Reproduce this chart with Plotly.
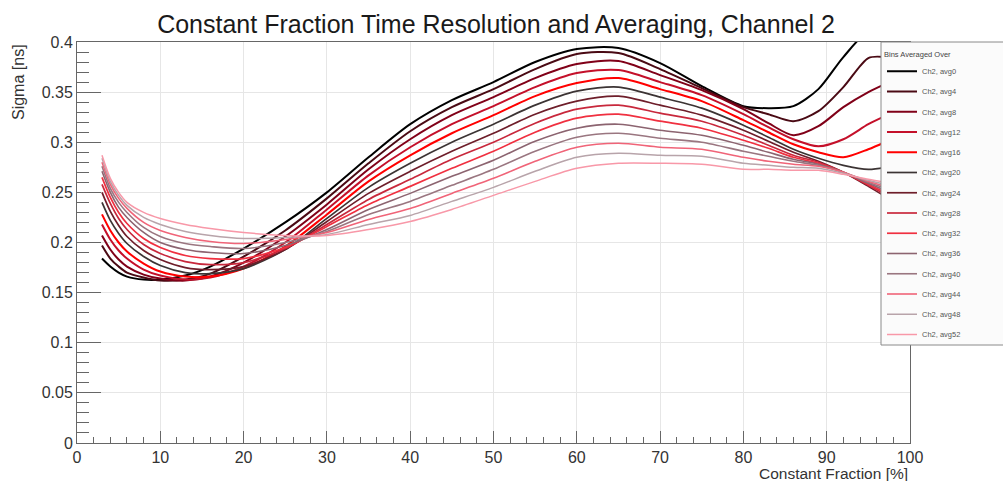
import plotly.graph_objects as go

# Constant fraction [%] sample positions
cf = [3, 4, 5, 6, 8, 10, 13, 16, 20, 25, 30, 35, 40, 45, 50, 55, 60, 65, 70, 75, 80, 83, 86, 89, 92, 95, 97]

# Sigma [ns] for each averaging setting
avg0 = [0.184, 0.176, 0.170, 0.166, 0.163, 0.163, 0.167, 0.176, 0.194, 0.220, 0.250, 0.285, 0.318, 0.342, 0.360, 0.380, 0.393, 0.394, 0.379, 0.356, 0.336, 0.334, 0.336, 0.353, 0.385, 0.410, 0.405]
avg4 = [0.197, 0.184, 0.176, 0.170, 0.165, 0.162, 0.163, 0.169, 0.186, 0.212, 0.244, 0.279, 0.311, 0.335, 0.353, 0.373, 0.388, 0.389, 0.373, 0.354, 0.335, 0.328, 0.321, 0.331, 0.355, 0.384, 0.385]
avg8 = [0.207, 0.193, 0.183, 0.176, 0.168, 0.164, 0.162, 0.166, 0.180, 0.206, 0.238, 0.273, 0.303, 0.327, 0.345, 0.364, 0.378, 0.381, 0.367, 0.352, 0.333, 0.319, 0.307, 0.316, 0.335, 0.350, 0.358]
avg12 = [0.218, 0.203, 0.192, 0.184, 0.173, 0.167, 0.163, 0.165, 0.176, 0.200, 0.233, 0.267, 0.295, 0.318, 0.336, 0.355, 0.369, 0.372, 0.360, 0.347, 0.328, 0.315, 0.303, 0.296, 0.303, 0.318, 0.326]
avg16 = [0.228, 0.212, 0.200, 0.191, 0.179, 0.171, 0.166, 0.166, 0.174, 0.196, 0.228, 0.261, 0.287, 0.309, 0.327, 0.346, 0.359, 0.364, 0.353, 0.341, 0.322, 0.310, 0.298, 0.290, 0.285, 0.293, 0.300]
avg20 = [0.240, 0.222, 0.209, 0.199, 0.186, 0.177, 0.170, 0.169, 0.174, 0.193, 0.224, 0.255, 0.279, 0.300, 0.318, 0.337, 0.351, 0.355, 0.345, 0.334, 0.317, 0.305, 0.293, 0.284, 0.277, 0.273, 0.275]
avg24 = [0.250, 0.231, 0.217, 0.206, 0.192, 0.183, 0.175, 0.173, 0.176, 0.193, 0.221, 0.249, 0.271, 0.291, 0.309, 0.328, 0.341, 0.346, 0.337, 0.327, 0.312, 0.301, 0.290, 0.281, 0.270, 0.256, 0.246]
avg28 = [0.258, 0.239, 0.224, 0.213, 0.198, 0.189, 0.181, 0.178, 0.180, 0.194, 0.218, 0.243, 0.263, 0.283, 0.300, 0.319, 0.333, 0.337, 0.329, 0.321, 0.307, 0.297, 0.287, 0.280, 0.270, 0.257, 0.248]
avg32 = [0.265, 0.245, 0.230, 0.219, 0.204, 0.195, 0.187, 0.184, 0.184, 0.195, 0.216, 0.238, 0.256, 0.274, 0.291, 0.310, 0.324, 0.328, 0.321, 0.314, 0.302, 0.294, 0.285, 0.279, 0.270, 0.258, 0.250]
avg36 = [0.271, 0.250, 0.235, 0.225, 0.210, 0.200, 0.193, 0.190, 0.189, 0.197, 0.213, 0.233, 0.249, 0.266, 0.282, 0.301, 0.314, 0.318, 0.312, 0.307, 0.297, 0.290, 0.283, 0.278, 0.270, 0.259, 0.252]
avg40 = [0.276, 0.254, 0.240, 0.230, 0.215, 0.206, 0.199, 0.196, 0.194, 0.200, 0.211, 0.228, 0.241, 0.257, 0.273, 0.291, 0.305, 0.309, 0.304, 0.300, 0.291, 0.286, 0.281, 0.277, 0.270, 0.260, 0.254]
avg44 = [0.280, 0.258, 0.244, 0.234, 0.220, 0.212, 0.205, 0.201, 0.199, 0.203, 0.210, 0.223, 0.234, 0.249, 0.264, 0.281, 0.295, 0.299, 0.295, 0.293, 0.285, 0.281, 0.278, 0.276, 0.270, 0.261, 0.256]
avg48 = [0.284, 0.261, 0.247, 0.237, 0.225, 0.218, 0.211, 0.207, 0.204, 0.205, 0.208, 0.218, 0.227, 0.241, 0.255, 0.271, 0.285, 0.289, 0.287, 0.286, 0.279, 0.277, 0.275, 0.274, 0.269, 0.262, 0.258]
avg52 = [0.287, 0.264, 0.250, 0.240, 0.230, 0.224, 0.218, 0.214, 0.210, 0.207, 0.207, 0.213, 0.221, 0.233, 0.247, 0.261, 0.274, 0.279, 0.279, 0.278, 0.273, 0.273, 0.272, 0.272, 0.268, 0.263, 0.260]

series_names = ["Ch2, avg0", "Ch2, avg4", "Ch2, avg8", "Ch2, avg12", "Ch2, avg16",
                "Ch2, avg20", "Ch2, avg24", "Ch2, avg28", "Ch2, avg32", "Ch2, avg36",
                "Ch2, avg40", "Ch2, avg44", "Ch2, avg48", "Ch2, avg52"]
series_values = [avg0, avg4, avg8, avg12, avg16, avg20, avg24, avg28, avg32,
                 avg36, avg40, avg44, avg48, avg52]

colors = ["#000000", "#4a0a14", "#800018", "#c4102a", "#ff0000",
          "#3c3434", "#6e1e2a", "#c8283c", "#f03040", "#8c6470",
          "#9a7680", "#f06478", "#b8a4aa", "#f898a8"]
widths = [2, 2, 2, 2, 2, 1.7, 1.7, 1.7, 1.7, 1.6, 1.6, 1.6, 1.5, 1.5]

FONT = "Liberation Sans, Arial, Helvetica, sans-serif"

fig = go.Figure()
for i, (name, vals) in enumerate(zip(series_names, series_values)):
    fig.add_trace(go.Scatter(
        x=cf, y=vals, name=name, mode="lines",
        legendgroup=name,
        line=dict(color=colors[i], width=widths[i], shape="spline", smoothing=0.8),
        hoverinfo="skip",
    ))

# plot area in pixels: left 77, right 910, top 42, bottom 443
L, R, T, B = 77, 910, 42, 443
W, H = 1003, 481
pw, ph = R - L, B - T

def px_x(p):
    return (p - L) / pw

def px_y(p):
    return (B - p) / ph

fig.update_layout(
    width=W, height=H,
    margin=dict(l=L, r=W - R, t=T, b=H - B, pad=0),
    paper_bgcolor="white", plot_bgcolor="white",
    font=dict(family=FONT, size=16, color="#333333"),
    title=dict(text="Constant Fraction Time Resolution and Averaging, Channel 2",
               x=496 / W, xanchor="center", xref="container",
               y=1 - 24 / H, yanchor="middle", yref="container",
               font=dict(family=FONT, size=25, color="#1a1a1a")),
    showlegend=True,
    legend=dict(x=px_x(882), y=px_y(47), xanchor="left", yanchor="top",
                bgcolor="rgba(0,0,0,0)", borderwidth=0,
                font=dict(family=FONT, size=7.5, color="#555555"),
                title=dict(text="Bins Averaged Over",
                           font=dict(family=FONT, size=7.5, color="#444444")),
                traceorder="grouped", tracegroupgap=1.25, itemwidth=30),
    xaxis=dict(range=[0, 100], tick0=0, dtick=10, ticks="inside", ticklen=12,
               tickcolor="#666666", showline=True, linecolor="#666666", linewidth=1,
               mirror=True, showgrid=True, gridcolor="#e6e6e6", gridwidth=1,
               zeroline=False, tickfont=dict(size=16, color="#333333"),
               minor=dict(dtick=2, ticks="inside", ticklen=6, tickcolor="#666666",
                          showgrid=False)),
    yaxis=dict(range=[0, 0.4], tick0=0, dtick=0.05, ticks="inside", ticklen=24,
               tickcolor="#666666", showline=True, linecolor="#666666", linewidth=1,
               mirror=True, showgrid=True, gridcolor="#e6e6e6", gridwidth=1,
               zeroline=False, tickfont=dict(size=16, color="#333333"),
               minor=dict(dtick=0.01, ticks="inside", ticklen=12, tickcolor="#666666",
                          showgrid=False)),
    shapes=[dict(type="rect", xref="paper", yref="paper",
                 x0=px_x(881), x1=px_x(1010), y0=px_y(345), y1=px_y(42),
                 fillcolor="#fbfbfb", line=dict(color="#8a8a8a", width=1),
                 layer="above")],
    annotations=[
        dict(text="Sigma [ns]", xref="paper", yref="paper", x=px_x(18), y=1.0,
             xanchor="center", yanchor="top", textangle=-90, showarrow=False,
             font=dict(family=FONT, size=16, color="#333333")),
        dict(text="Constant Fraction [%]", xref="paper", yref="paper", x=1.0,
             y=px_y(473), xanchor="right", yanchor="middle", showarrow=False,
             font=dict(family=FONT, size=15.5, color="#333333")),
    ],
)

fig.write_html("out.html")
